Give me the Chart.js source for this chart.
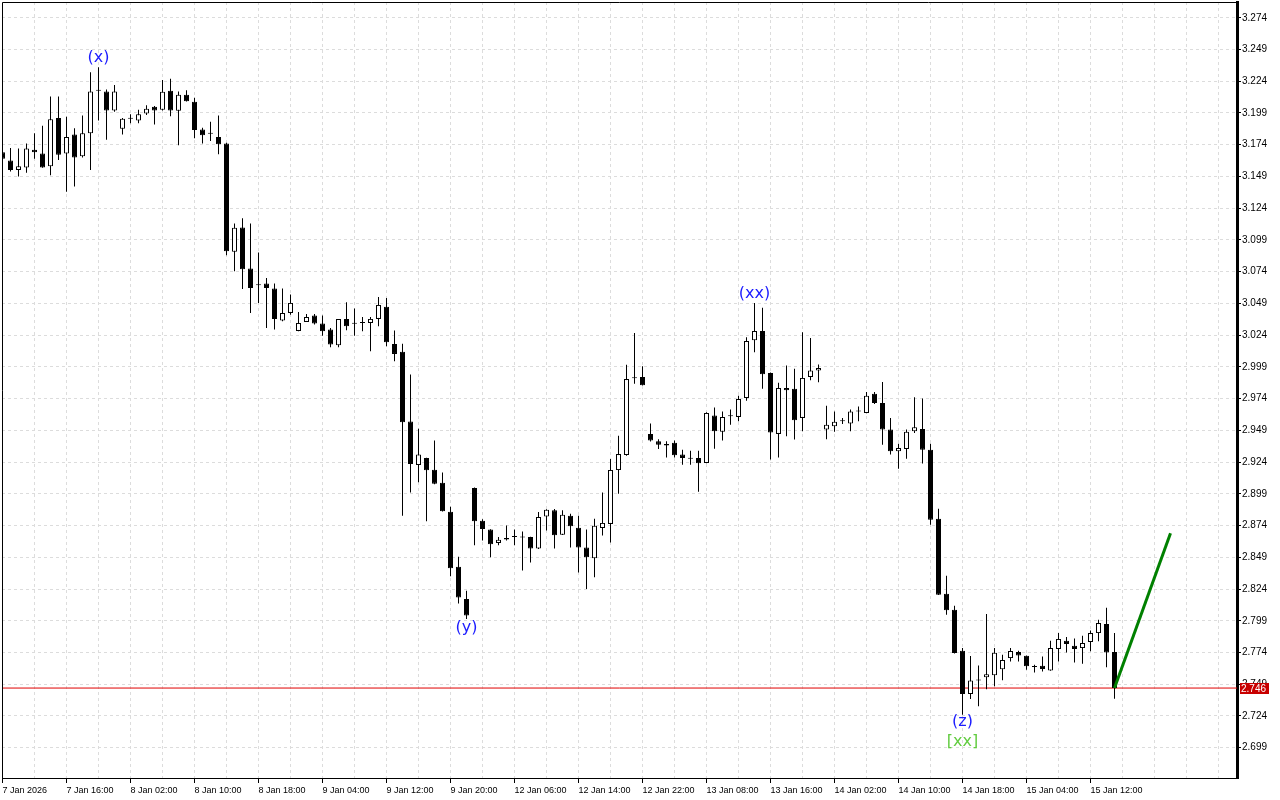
<!DOCTYPE html>
<html>
<head>
<meta charset="utf-8">
<script src="https://cdn.jsdelivr.net/npm/chart.js@4.4.1/dist/chart.umd.min.js"></script>
<style>
  html, body { margin: 0; padding: 0; background: #fff; }
  canvas { display: block; }
</style>
</head>
<body>
<canvas id="chart" width="1280" height="800"></canvas>
<script>
// hourly candles, bar index 0 = 7 Jan 08:00
const opens = [
  3.168, 3.1615, 3.154, 3.156, 3.170, 3.167, 3.157, 3.195, 3.167, 3.182,
  3.165, 3.183, 3.2165, 3.216, 3.201, 3.1865, 3.1944, 3.193, 3.1986, 3.204,
  3.2015, 3.2165, 3.2007, 3.2133, 3.2078, 3.186, 3.1826, 3.180, 3.175, 3.0896,
  3.1087, 3.0764, 3.0633, 3.0646, 3.0607, 3.0355, 3.0415, 3.0273, 3.0344, 3.0394,
  3.0331, 3.0284, 3.0161, 3.0368, 3.0329, 3.0336, 3.0336, 3.0368, 3.0463, 3.0171,
  3.011, 2.9559, 2.9217, 2.9273, 2.918, 2.9078, 2.8849, 2.8416, 2.8162, 2.9036,
  2.8778, 2.8708, 2.8603, 2.8642, 2.865, 2.8648, 2.865, 2.856, 2.8812, 2.886,
  2.8668, 2.8818, 2.8723, 2.8568, 2.8482, 2.8721, 2.8753, 2.9177, 2.9296, 2.990,
  2.991, 2.9462, 2.9405, 2.9382, 2.9393, 2.9299, 2.9267, 2.9273, 2.9233, 2.9606,
  2.9478, 2.9601, 2.9596, 2.9745, 3.0199, 3.0273, 2.9942, 2.9462, 2.9824, 2.9818,
  2.9588, 2.9911, 2.9961, 2.9496, 2.9522, 2.9561, 2.9543, 2.9638, 2.9627, 2.9779,
  2.9706, 2.9496, 2.9325, 2.9343, 2.9482, 2.9501, 2.9338, 2.8794, 2.8203, 2.8077,
  2.7754, 2.7413, 2.752, 2.7545, 2.7561, 2.7609, 2.7696, 2.7744, 2.7715, 2.7626,
  2.7636, 2.7599, 2.7768, 2.7833, 2.7794, 2.7775, 2.7823, 2.7893, 2.7964, 2.7744
];
const highs = [
  3.170, 3.1715, 3.171, 3.175, 3.183, 3.189, 3.212, 3.212, 3.196, 3.187,
  3.197, 3.231, 3.235, 3.2175, 3.221, 3.195, 3.198, 3.2015, 3.205, 3.2045,
  3.225, 3.226, 3.216, 3.217, 3.211, 3.1873, 3.192, 3.197, 3.1755, 3.112,
  3.116, 3.112, 3.089, 3.069, 3.0646, 3.0607, 3.056, 3.0423, 3.0407, 3.0407,
  3.0394, 3.0297, 3.0368, 3.050, 3.045, 3.0383, 3.0383, 3.054, 3.0533, 3.0276,
  3.0173, 2.993, 2.9503, 2.9275, 2.941, 2.9157, 2.8889, 2.8495, 2.8227, 2.904,
  2.879, 2.871, 2.865, 2.874, 2.8708, 2.8694, 2.8652, 2.8847, 2.8868, 2.8871,
  2.886, 2.8834, 2.8818, 2.8708, 2.8794, 2.900, 2.9265, 2.9447, 3.0007, 3.0257,
  2.9994, 2.9543, 2.942, 2.9405, 2.941, 2.9338, 2.933, 2.933, 2.9632, 2.967,
  2.9638, 2.9654, 2.9763, 3.0223, 3.0494, 3.0455, 2.9945, 2.9864, 3.000, 2.9976,
  3.0262, 3.0217, 3.0008, 2.9684, 2.9638, 2.9588, 2.9654, 2.9678, 2.9792, 2.9792,
  2.9871, 2.9588, 2.9385, 2.9496, 2.975, 2.974, 2.9385, 2.8873, 2.8345, 2.8108,
  2.7775, 2.7712, 2.7638, 2.8044, 2.7775, 2.7723, 2.7775, 2.7754, 2.7716, 2.7644,
  2.7709, 2.7833, 2.7893, 2.7862, 2.785, 2.7872, 2.7914, 2.7998, 2.8092, 2.7893
];
const lows = [
  3.161, 3.153, 3.149, 3.152, 3.163, 3.1558, 3.150, 3.162, 3.137, 3.141,
  3.164, 3.154, 3.193, 3.178, 3.200, 3.182, 3.191, 3.191, 3.1975, 3.190,
  3.201, 3.1965, 3.1736, 3.208, 3.179, 3.175, 3.177, 3.1665, 3.087, 3.0743,
  3.0604, 3.0415, 3.0494, 3.0297, 3.0284, 3.035, 3.040, 3.027, 3.0344, 3.0323,
  3.0236, 3.0145, 3.0145, 3.0278, 3.0236, 3.027, 3.0113, 3.031, 3.0152, 3.0034,
  2.8818, 2.900, 2.9081, 2.8773, 2.9065, 2.885, 2.834, 2.8127, 2.8004, 2.8584,
  2.8623, 2.849, 2.8584, 2.8623, 2.8584, 2.8387, 2.845, 2.8555, 2.8702, 2.856,
  2.8665, 2.8568, 2.837, 2.824, 2.8333, 2.8662, 2.8607, 2.899, 2.929, 2.9858,
  2.9843, 2.9403, 2.9344, 2.9277, 2.9277, 2.922, 2.922, 2.9007, 2.923, 2.9346,
  2.9411, 2.9535, 2.9561, 2.9724, 3.0105, 2.9818, 2.926, 2.9277, 2.9443, 2.9417,
  2.9482, 2.9884, 2.9868, 2.9419, 2.9478, 2.9541, 2.9482, 2.9561, 2.9625, 2.9698,
  2.9377, 2.9299, 2.9188, 2.9267, 2.947, 2.9228, 2.8747, 2.8193, 2.8038, 2.7733,
  2.725, 2.7374, 2.7317, 2.7451, 2.7474, 2.7521, 2.767, 2.767, 2.7604, 2.7583,
  2.759, 2.7596, 2.767, 2.7741, 2.7662, 2.7652, 2.7749, 2.7829, 2.7623, 2.7376
];
const closes = [
  3.163, 3.154, 3.157, 3.171, 3.168, 3.156, 3.194, 3.166, 3.180, 3.164,
  3.183, 3.216, 3.2165, 3.201, 3.216, 3.1944, 3.1944, 3.198, 3.2023, 3.201,
  3.2157, 3.201, 3.2133, 3.2083, 3.1855, 3.1815, 3.1826, 3.1744, 3.090, 3.1085,
  3.0759, 3.0612, 3.0633, 3.0612, 3.0368, 3.0415, 3.0494, 3.0336, 3.0383, 3.0331,
  3.027, 3.0166, 3.0368, 3.031, 3.0329, 3.0336, 3.0368, 3.0478, 3.0184, 3.0092,
  2.9553, 2.9225, 2.9299, 2.9175, 2.907, 2.8852, 2.8403, 2.8174, 2.8032, 2.8773,
  2.8713, 2.8592, 2.8629, 2.8631, 2.865, 2.8645, 2.856, 2.8808, 2.8865, 2.8663,
  2.8826, 2.8734, 2.8568, 2.849, 2.8739, 2.8761, 2.9178, 2.9303, 2.9894, 2.990,
  2.9845, 2.9411, 2.9376, 2.9371, 2.9293, 2.9273, 2.9267, 2.923, 2.9627, 2.9482,
  2.9596, 2.9601, 2.9737, 3.0194, 3.0273, 2.9931, 2.9474, 2.9824, 2.9805, 2.9569,
  2.9903, 2.9961, 2.9982, 2.9535, 2.9557, 2.9561, 2.9638, 2.9638, 2.9763, 2.9706,
  2.9496, 2.9325, 2.9351, 2.9478, 2.9514, 2.9338, 2.8786, 2.8195, 2.8072, 2.7736,
  2.7413, 2.752, 2.752, 2.7569, 2.7739, 2.7681, 2.7752, 2.7717, 2.7631, 2.7626,
  2.761, 2.7775, 2.7847, 2.7807, 2.7768, 2.7815, 2.7893, 2.7972, 2.7741, 2.746
];

// one label every 8 bars
const tickLabels = [
  '7 Jan 2026', '7 Jan 16:00', '8 Jan 02:00', '8 Jan 10:00', '8 Jan 18:00',
  '9 Jan 04:00', '9 Jan 12:00', '9 Jan 20:00', '12 Jan 06:00', '12 Jan 14:00',
  '12 Jan 22:00', '13 Jan 08:00', '13 Jan 16:00', '14 Jan 02:00', '14 Jan 10:00',
  '14 Jan 18:00', '15 Jan 04:00', '15 Jan 12:00'
];
const priceTicks = [
  2.699, 2.724, 2.749, 2.774, 2.799, 2.824, 2.849, 2.874, 2.899, 2.924, 2.949, 2.974,
  2.999, 3.024, 3.049, 3.074, 3.099, 3.124, 3.149, 3.174, 3.199, 3.224, 3.249, 3.274
];

const lastPrice = 2.746;
const projBars = [139, 146];
const projValues = [2.746, 2.868];

const waveText = ['(x)', '(xx)', '(y)', '(z)', '[xx]'];
const waveBars = [12, 94, 58, 120, 120];
const waveValues = [3.2427, 3.0566, 2.7933, 2.7192, 2.7035];
const waveColors = ['#1c1cff', '#1c1cff', '#1c1cff', '#1c1cff', '#62cc40'];

const xMin = -0.0625, xMax = 154.3125;
const yMin = 2.67515, yMax = 3.28642;

Chart.defaults.font.family = "'Liberation Sans', Arial, sans-serif";
Chart.defaults.color = '#000';

const wickData = lows.map((l, i) => ({ x: i, y: [l, highs[i]] }));
const bodyData = opens.map((o, i) => ({ x: i, y: [o, closes[i]] }));

const isUp = (ctx) => ctx.raw && ctx.raw.y[1] >= ctx.raw.y[0];

// scales should not push the plot area in
const noPad = (scale) => {
  scale.paddingTop = 0;
  scale.paddingBottom = 0;
  scale.paddingLeft = 0;
  scale.paddingRight = 0;
};

const overlay = {
  id: 'overlay',
  afterDraw(chart) {
    const { ctx, chartArea: a, scales: { x, y } } = chart;
    ctx.save();
    // left and top edges of the frame
    ctx.strokeStyle = '#000';
    ctx.lineWidth = 1;
    ctx.beginPath();
    ctx.moveTo(a.left + 0.5, a.bottom);
    ctx.lineTo(a.left + 0.5, a.top + 0.5);
    ctx.lineTo(a.right, a.top + 0.5);
    ctx.stroke();

    // wave marks
    ctx.font = "16px 'DejaVu Sans'";
    ctx.textAlign = 'center';
    ctx.textBaseline = 'middle';
    waveText.forEach((t, i) => {
      ctx.fillStyle = waveColors[i];
      ctx.fillText(t, x.getPixelForValue(waveBars[i]), y.getPixelForValue(waveValues[i]));
    });

    // current price tag on the axis
    const py = Math.round(y.getPixelForValue(lastPrice));
    ctx.fillStyle = '#c80000';
    ctx.fillRect(a.right + 3, py - 5, 29, 11);
    ctx.fillStyle = '#fff';
    ctx.font = "10px 'Liberation Sans'";
    ctx.textAlign = 'left';
    ctx.fillText(lastPrice.toFixed(3), a.right + 4, py + 1);
    ctx.restore();
  }
};

new Chart(document.getElementById('chart'), {
  type: 'bar',
  data: {
    datasets: [
      {
        type: 'line',
        data: [{ x: projBars[0], y: projValues[0] }, { x: projBars[1], y: projValues[1] }],
        borderColor: '#008000',
        borderWidth: 3,
        pointRadius: 0,
        order: 0
      },
      {
        data: bodyData,
        backgroundColor: (ctx) => (isUp(ctx) ? '#fff' : '#000'),
        borderColor: '#000',
        borderWidth: 1,
        borderSkipped: false,
        barThickness: 5,
        minBarLength: 1,
        inflateAmount: 0,
        grouped: false,
        order: 1
      },
      {
        data: wickData,
        backgroundColor: '#000',
        borderWidth: 0,
        barThickness: 1,
        inflateAmount: 0,
        grouped: false,
        order: 2
      },
      {
        type: 'line',
        data: [{ x: xMin, y: lastPrice }, { x: xMax, y: lastPrice }],
        borderColor: '#e00000',
        borderWidth: 1,
        pointRadius: 0,
        order: 3
      }
    ]
  },
  options: {
    responsive: false,
    animation: false,
    events: [],
    layout: { autoPadding: false, padding: { left: 2, top: 2, right: 0, bottom: 0 } },
    plugins: { legend: { display: false }, tooltip: { enabled: false } },
    scales: {
      x: {
        type: 'linear',
        min: xMin,
        max: xMax,
        offset: false,
        afterBuildTicks: (scale) => {
          const t = [];
          for (let v = 0; v <= 152; v += 4) t.push({ value: v });
          scale.ticks = t;
        },
        afterFit: (scale) => { scale.height = 22; noPad(scale); },
        grid: {
          offset: false,
          color: '#dcdcdc',
          tickLength: 5,
          tickColor: (ctx) => (ctx.tick && ctx.tick.value % 8 === 0 && ctx.tick.value / 8 < tickLabels.length ? '#000' : 'rgba(0,0,0,0)')
        },
        border: { color: '#000', width: 1, dash: [3, 3] },
        ticks: {
          autoSkip: false,
          maxRotation: 0,
          align: 'start',
          padding: 2,
          font: { size: 9 },
          callback: (value) => (value % 8 === 0 ? (tickLabels[value / 8] || '') : '')
        }
      },
      y: {
        position: 'right',
        min: yMin,
        max: yMax,
        afterBuildTicks: (scale) => { scale.ticks = priceTicks.map((v) => ({ value: v })); },
        afterFit: (scale) => { scale.width = 43; noPad(scale); },
        grid: { color: '#dcdcdc', tickLength: 4, tickColor: '#000' },
        border: { color: '#000', width: 3, dash: [3, 3] },
        ticks: {
          autoSkip: false,
          padding: 1,
          font: { size: 10 },
          callback: (value) => Number(value).toFixed(3)
        }
      }
    }
  },
  plugins: [overlay]
});
</script>
</body>
</html>
